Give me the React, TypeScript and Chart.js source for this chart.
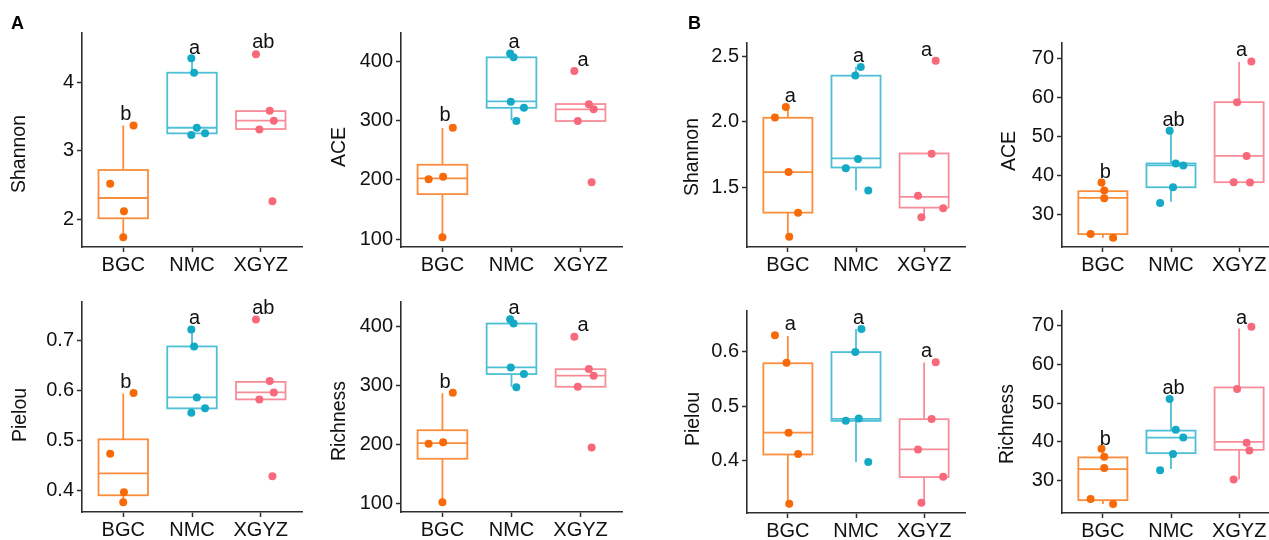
import React, { useEffect, useRef } from "react";
import { Chart, registerables } from "chart.js";

Chart.register(...registerables);

// ---------- shared ----------
const groups = ["BGC", "NMC", "XGYZ"];
const pointColors = ["#F86A08", "#14AAC6", "#F7697B"];
const boxColors = ["#FC8D3C", "#4EC0D6", "#F88D9A"];

// ---------- Panel A: Shannon ----------
const shannonA_values = [[2.52, 2.117, 1.74, 3.37], [4.35, 4.14, 3.337, 3.23, 3.255], [4.41, 3.585, 3.44, 3.31, 2.263]];
const shannonA_jitter = [[-0.19, 0.01, 0.0, 0.15], [-0.01, 0.03, 0.07, -0.01, 0.19], [-0.07, 0.13, 0.19, -0.02, 0.17]];
const shannonA_box = [[1.74, 2.015, 2.311, 2.72, 3.37], [3.23, 3.255, 3.337, 4.14, 4.35], [3.318, 3.318, 3.44, 3.58, 3.58]];
const shannonA_letters = ["b", "a", "ab"];
const shannonA_letterY = [3.45, 4.42, 4.5];
const shannonA_ticks = [2, 3, 4];
const shannonA_tickLabels = ["2", "3", "4"];
const shannonA_range = [1.596, 4.72];

// ---------- Panel A: ACE ----------
const aceA_values = [[201, 205.4, 103, 288.3], [414, 407.4, 332.3, 299.7, 322.2], [384.3, 328, 319.5, 299.7, 196]];
const aceA_jitter = [[-0.2, 0.01, 0.0, 0.15], [-0.02, 0.03, -0.01, 0.07, 0.18], [-0.09, 0.12, 0.19, -0.04, 0.16]];
const aceA_box = [[103, 176, 202.7, 225.7, 288], [301, 322, 333, 407.4, 414], [299.7, 299.7, 319.5, 328.4, 328.4]];
const aceA_letters = ["b", "a", "a"];
const aceA_letterY = [299, 422.7, 393];
const aceA_ticks = [100, 200, 300, 400];
const aceA_tickLabels = ["100", "200", "300", "400"];
const aceA_range = [86.5, 448.6];

// ---------- Panel A: Pielou ----------
const pielouA_values = [[0.474, 0.397, 0.377, 0.596], [0.723, 0.689, 0.587, 0.556, 0.565], [0.743, 0.62, 0.597, 0.583, 0.429]];
const pielouA_jitter = [[-0.19, 0.01, 0.0, 0.15], [-0.01, 0.03, 0.07, -0.01, 0.19], [-0.07, 0.13, 0.19, -0.02, 0.17]];
const pielouA_box = [[0.377, 0.391, 0.435, 0.503, 0.595], [0.556, 0.565, 0.587, 0.689, 0.723], [0.583, 0.583, 0.597, 0.618, 0.618]];
const pielouA_letters = ["b", "a", "ab"];
const pielouA_letterY = [0.605, 0.733, 0.753];
const pielouA_ticks = [0.4, 0.5, 0.6, 0.7];
const pielouA_tickLabels = ["0.4", "0.5", "0.6", "0.7"];
const pielouA_range = [0.3575, 0.778];

// ---------- Panel A: Richness ----------
const richA_values = [[200.8, 203.7, 101.2, 288], [413, 405.7, 331, 297, 319.7], [383, 328.2, 316.8, 298, 194.6]];
const richA_jitter = [[-0.2, 0.01, 0.0, 0.15], [-0.02, 0.03, -0.01, 0.07, 0.18], [-0.09, 0.12, 0.19, -0.04, 0.16]];
const richA_box = [[101.2, 175.4, 202, 224, 287], [298, 319.7, 331, 405.7, 413], [298, 298, 317, 328, 328]];
const richA_letters = ["b", "a", "a"];
const richA_letterY = [295.4, 421.6, 392.7];
const richA_ticks = [100, 200, 300, 400];
const richA_tickLabels = ["100", "200", "300", "400"];
const richA_range = [84.7, 442.4];

// ---------- Panel B: Shannon ----------
const shannonB_values = [[2.034, 2.114, 1.618, 1.309, 1.126], [2.419, 2.355, 1.717, 1.648, 1.477], [2.467, 1.757, 1.437, 1.343, 1.274]];
const shannonB_jitter = [[-0.19, -0.03, 0.01, 0.15, 0.02], [0.07, -0.01, 0.03, -0.15, 0.18], [0.17, 0.11, -0.09, 0.28, -0.04]];
const shannonB_box = [[1.126, 1.309, 1.618, 2.032, 2.114], [1.477, 1.653, 1.722, 2.353, 2.419], [1.274, 1.347, 1.429, 1.76, 1.76]];
const shannonB_letters = ["a", "a", "a"];
const shannonB_letterY = [2.149, 2.457, 2.505];
const shannonB_ticks = [1.5, 2.0, 2.5];
const shannonB_tickLabels = ["1.5", "2.0", "2.5"];
const shannonB_range = [1.047, 2.602];

// ---------- Panel B: ACE ----------
const aceB_values = [[38.1, 36.05, 34.1, 24.9, 24.0], [51.4, 43.0, 42.5, 36.9, 32.9], [69.1, 58.7, 44.9, 38.2, 38.1]];
const aceB_jitter = [[-0.02, 0.02, 0.02, -0.18, 0.15], [-0.02, 0.07, 0.18, 0.03, -0.16], [0.18, -0.03, 0.11, -0.08, 0.16]];
const aceB_box = [[24.0, 24.9, 34.2, 35.9, 38.1], [33.2, 36.9, 42.5, 43.0, 51.4], [38.2, 38.2, 44.95, 58.7, 69.0]];
const aceB_letters = ["b", "ab", "a"];
const aceB_letterY = [39.4, 52.6, 70.4];
const aceB_ticks = [30, 40, 50, 60, 70];
const aceB_tickLabels = ["30", "40", "50", "60", "70"];
const aceB_range = [21.6, 73.85];

// ---------- Panel B: Pielou ----------
const pielouB_values = [[0.6306, 0.58, 0.4512, 0.4122, 0.3208], [0.642, 0.5995, 0.4775, 0.4732, 0.3976], [0.581, 0.4768, 0.4207, 0.3707, 0.3226]];
const pielouB_jitter = [[-0.19, -0.02, 0.01, 0.15, 0.02], [0.08, -0.01, 0.04, -0.15, 0.18], [0.17, 0.11, -0.09, 0.28, -0.04]];
const pielouB_box = [[0.321, 0.4115, 0.4518, 0.579, 0.629], [0.3976, 0.4732, 0.477, 0.5995, 0.642], [0.3226, 0.37, 0.4207, 0.4763, 0.5806]];
const pielouB_letters = ["a", "a", "a"];
const pielouB_letterY = [0.6397, 0.652, 0.5898];
const pielouB_ticks = [0.4, 0.5, 0.6];
const pielouB_tickLabels = ["0.4", "0.5", "0.6"];
const pielouB_range = [0.304, 0.675];

// ---------- Panel B: Richness ----------
const richB_values = [[38.2, 36.15, 33.3, 25.3, 24.0], [51.0, 43.1, 41.1, 36.85, 32.7], [69.6, 53.6, 39.8, 37.8, 30.3]];
const richB_jitter = [[-0.02, 0.02, 0.02, -0.18, 0.15], [-0.02, 0.07, 0.18, 0.03, -0.16], [0.18, -0.03, 0.11, 0.15, -0.08]];
const richB_box = [[24.0, 25.0, 33.0, 36.0, 38.2], [33.0, 37.1, 41.1, 42.9, 51.0], [30.3, 37.95, 40.0, 54.0, 69.15]];
const richB_letters = ["b", "ab", "a"];
const richB_letterY = [39.2, 52.3, 70.4];
const richB_ticks = [30, 40, 50, 60, 70];
const richB_tickLabels = ["30", "40", "50", "60", "70"];
const richB_range = [21.7, 73.67];

// ---------- layout / style ----------
const FONT = "'Liberation Sans', Arial, Helvetica, sans-serif";
const TEXT_COLOR = "#111111";
const AXIS_COLOR = "#2e2e2e";
const AXIS_W = 90;
const PAD_T = 18;
const PAD_R = 6;
const X_AXIS_H = 40;
const BOX_HALF = 0.36;

type PanelDef = {
  title: string;
  values: number[][];
  jitter: number[][];
  box: number[][];
  letters: string[];
  letterY: number[];
  ticks: number[];
  tickLabels: string[];
  range: number[];
  area: { left: number; top: number; right: number; bottom: number };
  titleDx: number;
  titleDy: number;
};

const panels: PanelDef[] = [
  { title: "Shannon", values: shannonA_values, jitter: shannonA_jitter, box: shannonA_box, letters: shannonA_letters, letterY: shannonA_letterY, ticks: shannonA_ticks, tickLabels: shannonA_tickLabels, range: shannonA_range, area: { left: 82, top: 33, right: 302, bottom: 247 }, titleDx: -62, titleDy: 14 },
  { title: "ACE", values: aceA_values, jitter: aceA_jitter, box: aceA_box, letters: aceA_letters, letterY: aceA_letterY, ticks: aceA_ticks, tickLabels: aceA_tickLabels, range: aceA_range, area: { left: 401, top: 33, right: 622, bottom: 247 }, titleDx: -61, titleDy: 7 },
  { title: "Pielou", values: pielouA_values, jitter: pielouA_jitter, box: pielouA_box, letters: pielouA_letters, letterY: pielouA_letterY, ticks: pielouA_ticks, tickLabels: pielouA_tickLabels, range: pielouA_range, area: { left: 81.5, top: 302, right: 302, bottom: 512 }, titleDx: -61, titleDy: 8 },
  { title: "Richness", values: richA_values, jitter: richA_jitter, box: richA_box, letters: richA_letters, letterY: richA_letterY, ticks: richA_ticks, tickLabels: richA_tickLabels, range: richA_range, area: { left: 401, top: 302, right: 622, bottom: 512 }, titleDx: -61, titleDy: 14 },
  { title: "Shannon", values: shannonB_values, jitter: shannonB_jitter, box: shannonB_box, letters: shannonB_letters, letterY: shannonB_letterY, ticks: shannonB_ticks, tickLabels: shannonB_tickLabels, range: shannonB_range, area: { left: 747, top: 43, right: 965, bottom: 247 }, titleDx: -54, titleDy: 12 },
  { title: "ACE", values: aceB_values, jitter: aceB_jitter, box: aceB_box, letters: aceB_letters, letterY: aceB_letterY, ticks: aceB_ticks, tickLabels: aceB_tickLabels, range: aceB_range, area: { left: 1062, top: 43, right: 1280, bottom: 247 }, titleDx: -52, titleDy: 6 },
  { title: "Pielou", values: pielouB_values, jitter: pielouB_jitter, box: pielouB_box, letters: pielouB_letters, letterY: pielouB_letterY, ticks: pielouB_ticks, tickLabels: pielouB_tickLabels, range: pielouB_range, area: { left: 747, top: 311, right: 965, bottom: 513 }, titleDx: -53, titleDy: 7 },
  { title: "Richness", values: richB_values, jitter: richB_jitter, box: richB_box, letters: richB_letters, letterY: richB_letterY, ticks: richB_ticks, tickLabels: richB_tickLabels, range: richB_range, area: { left: 1062, top: 311, right: 1280, bottom: 513 }, titleDx: -54, titleDy: 12 },
];

function makeBoxPlugin(p: PanelDef) {
  return {
    id: "boxes",
    beforeDatasetsDraw(chart: any) {
      const { ctx, scales } = chart;
      const x = scales.x;
      const y = scales.y;
      ctx.save();
      ctx.lineWidth = 1.8;
      p.box.forEach((b, g) => {
        const [mn, q1, md, q3, mx] = b;
        const xc = x.getPixelForValue(g + 1);
        const xl = x.getPixelForValue(g + 1 - BOX_HALF);
        const xr = x.getPixelForValue(g + 1 + BOX_HALF);
        const yq1 = y.getPixelForValue(q1);
        const yq3 = y.getPixelForValue(q3);
        ctx.strokeStyle = boxColors[g];
        ctx.beginPath();
        ctx.moveTo(xc, y.getPixelForValue(mx));
        ctx.lineTo(xc, yq3);
        ctx.moveTo(xc, yq1);
        ctx.lineTo(xc, y.getPixelForValue(mn));
        ctx.stroke();
        ctx.strokeRect(xl, yq3, xr - xl, yq1 - yq3);
        ctx.beginPath();
        const ym = y.getPixelForValue(md);
        ctx.moveTo(xl, ym);
        ctx.lineTo(xr, ym);
        ctx.stroke();
      });
      ctx.restore();
    },
  };
}

function makeTextPlugin(p: PanelDef) {
  return {
    id: "texts",
    afterDraw(chart: any) {
      const { ctx, scales, chartArea } = chart;
      const x = scales.x;
      const y = scales.y;
      ctx.save();
      ctx.fillStyle = TEXT_COLOR;
      ctx.font = `20px ${FONT}`;
      ctx.textAlign = "center";
      ctx.textBaseline = "alphabetic";
      p.letters.forEach((t, g) => {
        ctx.fillText(t, x.getPixelForValue(g + 1) + 2.5, y.getPixelForValue(p.letterY[g]));
      });
      ctx.font = `19.5px ${FONT}`;
      ctx.translate(chartArea.left + p.titleDx, (chartArea.top + chartArea.bottom) / 2 + p.titleDy);
      ctx.rotate(-Math.PI / 2);
      ctx.textBaseline = "middle";
      ctx.fillText(p.title, 0, 0);
      ctx.restore();
    },
  };
}

function Panel({ p }: { p: PanelDef }) {
  const ref = useRef<HTMLCanvasElement>(null);
  const w = AXIS_W + (p.area.right - p.area.left) + PAD_R;
  const h = PAD_T + (p.area.bottom - p.area.top) + X_AXIS_H;

  useEffect(() => {
    if (!ref.current) return;
    const datasets = p.values.map((vals, g) => ({
      label: groups[g],
      data: vals.map((v, i) => ({ x: g + 1 + p.jitter[g][i], y: v })),
      backgroundColor: pointColors[g],
      borderColor: pointColors[g],
      pointRadius: 4,
      pointBorderWidth: 0,
      pointHoverRadius: 4,
    }));
    const tickFont = { family: FONT, size: 20 };
    const chart = new Chart(ref.current, {
      type: "scatter",
      data: { datasets },
      options: {
        animation: false,
        responsive: false,
        devicePixelRatio: 1,
        layout: { padding: { top: PAD_T, right: PAD_R, left: 0, bottom: 0 } },
        plugins: { legend: { display: false }, tooltip: { enabled: false } },
        scales: {
          x: {
            type: "linear",
            min: 0.4,
            max: 3.6,
            afterBuildTicks: (s: any) => {
              s.ticks = groups.map((_, i) => ({ value: i + 1 }));
            },
            afterFit: (s: any) => {
              s.height = X_AXIS_H;
            },
            ticks: {
              font: tickFont,
              color: TEXT_COLOR,
              padding: 1,
              maxRotation: 0,
              autoSkip: false,
              callback: (v: any) => groups[Math.round(v) - 1] ?? "",
            },
            grid: { drawOnChartArea: false, drawTicks: true, tickLength: 5, tickColor: AXIS_COLOR, tickWidth: 1.5 },
            border: { display: true, color: AXIS_COLOR, width: 1.6 },
          },
          y: {
            type: "linear",
            min: p.range[0],
            max: p.range[1],
            afterBuildTicks: (s: any) => {
              s.ticks = p.ticks.map((v) => ({ value: v }));
            },
            afterFit: (s: any) => {
              s.width = AXIS_W;
            },
            ticks: {
              font: tickFont,
              color: TEXT_COLOR,
              padding: 3,
              autoSkip: false,
              callback: (v: any) => {
                const i = p.ticks.findIndex((t) => Math.abs(t - v) < 1e-9);
                return i >= 0 ? p.tickLabels[i] : "";
              },
            },
            grid: { drawOnChartArea: false, drawTicks: true, tickLength: 5, tickColor: AXIS_COLOR, tickWidth: 1.5 },
            border: { display: true, color: AXIS_COLOR, width: 1.6 },
          },
        },
      } as any,
      plugins: [makeBoxPlugin(p), makeTextPlugin(p)],
    });
    return () => chart.destroy();
  }, [p]);

  return (
    <canvas
      ref={ref}
      width={w}
      height={h}
      style={{
        position: "absolute",
        left: p.area.left - AXIS_W,
        top: p.area.top - PAD_T,
        width: w,
        height: h,
      }}
    />
  );
}

const labelStyle: React.CSSProperties = {
  position: "absolute",
  top: 14,
  font: `bold 18px ${FONT}`,
  lineHeight: "18px",
  color: "#000",
};

export default function App() {
  return (
    <div
      style={{
        position: "absolute",
        left: 0,
        top: 0,
        width: 1269,
        height: 540,
        overflow: "hidden",
        background: "#ffffff",
      }}
    >
      {panels.map((p, i) => (
        <Panel key={i} p={p} />
      ))}
      <div style={{ ...labelStyle, left: 11 }}>A</div>
      <div style={{ ...labelStyle, left: 688 }}>B</div>
    </div>
  );
}
